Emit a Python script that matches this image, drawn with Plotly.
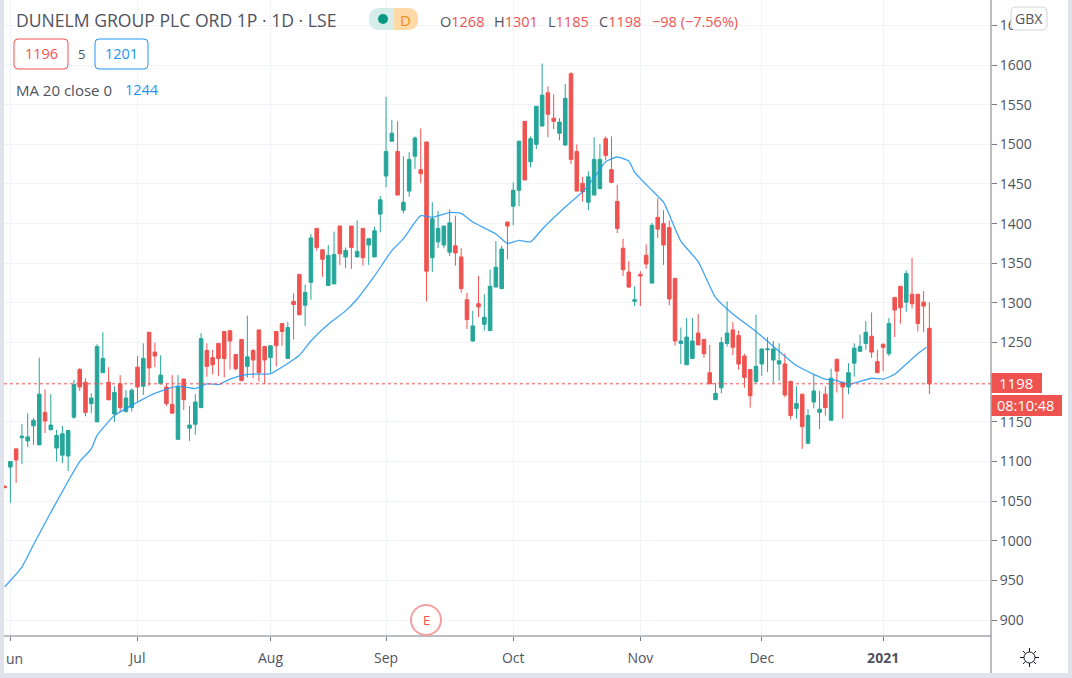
import plotly.graph_objects as go

TITLE = "DUNELM GROUP PLC ORD 1P · 1D · LSE"
open_ = [1069,1093,1116,1130,1126,1145,1121,1162,1140,1117,1108,1107,1156,1216,1200,1173,1150,1212,1200,1160,
 1198,1163,1168,1219,1195,1263,1238,1198,1194,1172,1128,1204,1142,1147,1168,1240,1231,1249,1264,1265,
 1235,1254,1220,1240,1266,1245,1231,1264,1274,1230,1302,1336,1297,1326,1394,1367,1322,1324,1397,1358,
 1397,1358,1394,1373,1358,1412,1460,1504,1491,1417,1441,1485,1468,1503,1357,1377,1373,1364,1372,1358,
 1304,1252,1299,1273,1265,1320,1318,1402,1422,1442,1529,1478,1500,1523,1565,1533,1514,1499,1589,1491,
 1451,1427,1436,1444,1507,1468,1428,1369,1339,1302,1336,1360,1325,1408,1400,1395,1331,1249,1222,1230,
 1262,1254,1212,1178,1193,1249,1266,1259,1233,1216,1201,1223,1241,1228,1223,1223,1201,1167,1185,1123,
 1175,1162,1185,1152,1229,1200,1194,1224,1239,1249,1258,1226,1248,1236,1307,1321,1301,1311,1311,1301,1268]
high = [1069,1100,1116,1147,1161,1155,1231,1191,1185,1140,1145,1140,1203,1218,1205,1186,1248,1263,1219,1195,
 1209,1190,1192,1233,1249,1263,1250,1234,1199,1209,1209,1204,1170,1185,1262,1249,1241,1249,1264,1265,
 1235,1254,1284,1242,1266,1246,1246,1264,1274,1276,1312,1336,1323,1387,1394,1367,1373,1390,1397,1370,
 1397,1404,1394,1381,1396,1435,1560,1531,1529,1485,1490,1510,1520,1503,1427,1416,1397,1418,1410,1369,
 1313,1290,1334,1311,1342,1378,1372,1402,1452,1504,1529,1510,1548,1602,1573,1563,1533,1576,1591,1500,
 1459,1466,1509,1500,1510,1510,1449,1381,1353,1321,1340,1374,1401,1432,1417,1404,1331,1269,1281,1281,
 1286,1254,1247,1199,1257,1302,1276,1265,1236,1216,1285,1242,1257,1252,1249,1236,1202,1195,1185,1166,
 1210,1189,1195,1217,1229,1200,1224,1249,1260,1277,1288,1241,1248,1281,1307,1321,1341,1357,1311,1315,1301]
low = [1067,1048,1073,1097,1118,1121,1121,1136,1140,1100,1098,1088,1154,1189,1157,1161,1150,1212,1177,1150,
 1163,1162,1163,1176,1184,1195,1219,1198,1170,1161,1128,1165,1126,1134,1168,1207,1210,1208,1206,1216,
 1215,1202,1206,1205,1201,1198,1212,1220,1246,1230,1254,1285,1271,1304,1366,1333,1322,1324,1348,1344,
 1343,1358,1347,1348,1358,1389,1446,1503,1436,1413,1434,1469,1451,1302,1339,1369,1369,1359,1347,1313,
 1267,1251,1282,1265,1265,1320,1318,1355,1398,1422,1455,1471,1494,1523,1509,1519,1505,1499,1475,1441,
 1428,1417,1436,1444,1480,1451,1388,1334,1319,1296,1296,1343,1325,1382,1348,1297,1246,1223,1222,1230,
 1247,1231,1198,1178,1186,1245,1234,1216,1193,1168,1198,1208,1213,1199,1202,1181,1153,1154,1116,1123,
 1167,1141,1158,1152,1187,1154,1185,1207,1239,1241,1231,1212,1214,1233,1257,1274,1289,1293,1264,1263,1185]
close = [1067,1100,1102,1132,1131,1152,1185,1151,1146,1133,1135,1139,1197,1194,1162,1180,1245,1230,1178,1187,
 1168,1180,1190,1194,1230,1218,1233,1209,1173,1161,1194,1178,1146,1175,1255,1220,1222,1230,1230,1252,
 1217,1202,1232,1228,1212,1228,1246,1246,1264,1269,1298,1285,1313,1382,1370,1355,1360,1361,1362,1366,
 1370,1365,1357,1381,1391,1430,1491,1514,1436,1427,1481,1508,1463,1340,1406,1394,1397,1401,1363,1318,
 1279,1271,1295,1282,1321,1345,1368,1397,1442,1504,1455,1507,1548,1562,1538,1529,1528,1558,1481,1441,
 1440,1459,1481,1481,1486,1452,1394,1342,1320,1304,1334,1349,1398,1393,1373,1305,1252,1252,1257,1252,
 1247,1236,1198,1186,1250,1262,1244,1223,1206,1183,1220,1242,1242,1242,1227,1184,1158,1173,1144,1158,
 1189,1166,1168,1205,1214,1194,1212,1243,1245,1263,1238,1212,1244,1274,1291,1294,1337,1299,1274,1296,1198]
ma_x = [0,3,5,8,13,15,16,19,23,26,30,33,35,37,39,42,46,51,53,56,59,61,64,67,69,72,74,77,79,81,85,87,89,91,93,97,
 100,102,104,106,108,109,112,114,117,120,123,126,130,134,137,140,142,144,146,148,150,152,154,156,158,159.5]
ma_y = [942,967,995,1036,1100,1116,1133,1158,1175,1186,1195,1192,1198,1197,1204,1210,1211,1234,1252,1273,1290,1305,1334,1366,1381,1410,1408,1414,1413,1402,1387,1375,1379,1377,1393,1421,
 1440,1458,1478,1484,1479,1465,1442,1427,1378,1352,1307,1286,1264,1239,1221,1210,1204,1202,1197,1201,1205,1204,1210,1223,1236,1244]
tick_x = [1,23,46,66,88,110,131,152]
tick_text = ["","Jul","Aug","Sep","Oct","Nov","Dec","<b>2021</b>"]
price_ticks = list(range(900,1700,50))
last_price = 1198
x_index = list(range(len(open_)))

W,H = 1072,678
L,R,T,B = 4,991,0,636
GREEN,RED,BLUE = "#26a69a","#ef5350","#2196f3"
TXT = "#50535e"
FONT = "Open Sans, Noto Sans, sans-serif"
def px(x): return (x-L)/(R-L)
def py(y): return 1-(y-T)/(B-T)

def rrect(x0,y0,x1,y1,r,fill,line,w=1):
    a,b,c,d = px(x0),py(y0),px(x1),py(y1)
    rx,ry = r/(R-L), r/(B-T)
    path = (f"M{a+rx},{b} L{c-rx},{b} Q{c},{b} {c},{b-ry} L{c},{d+ry} Q{c},{d} {c-rx},{d} "
            f"L{a+rx},{d} Q{a},{d} {a},{d+ry} L{a},{b-ry} Q{a},{b} {a+rx},{b} Z")
    return dict(type="path",xref="paper",yref="paper",path=path,fillcolor=fill,line=dict(color=line,width=w),layer="above")
def rect(x0,y0,x1,y1,fill):
    return dict(type="rect",xref="paper",yref="paper",x0=px(x0),x1=px(x1),y0=py(y0),y1=py(y1),fillcolor=fill,line=dict(width=0),layer="above")
def seg(x0,y0,x1,y1,c,w=1):
    return dict(type="line",xref="paper",yref="paper",x0=px(x0),x1=px(x1),y0=py(y0),y1=py(y1),line=dict(color=c,width=w),layer="above")
def circ(cx,cy,r,fill,line,w=1):
    return dict(type="circle",xref="paper",yref="paper",x0=px(cx-r),x1=px(cx+r),y0=py(cy+r),y1=py(cy-r),fillcolor=fill,line=dict(color=line,width=w),layer="above")
def label(x,y,text,size=14,color=TXT,anchor="left"):
    return dict(xref="paper",yref="paper",x=px(x),y=py(y),text=text,showarrow=False,xanchor=anchor,yanchor="middle",
                font=dict(family=FONT,size=size,color=color),borderpad=0,align=anchor)

fig = go.Figure()
fig.add_trace(go.Candlestick(x=x_index,open=open_,high=high,low=low,close=close,whiskerwidth=0,
    increasing=dict(line=dict(color=GREEN,width=1),fillcolor=GREEN),
    decreasing=dict(line=dict(color=RED,width=1),fillcolor=RED),hoverinfo="skip",showlegend=False))
fig.add_trace(go.Scatter(x=ma_x,y=ma_y,mode="lines",line=dict(color=BLUE,width=1.3,shape="spline",smoothing=0.5),opacity=0.85,hoverinfo="skip",showlegend=False))

strip = "#e0e3eb"
shapes = [
    dict(type="line",xref="paper",yref="y",x0=0,x1=1,y0=last_price,y1=last_price,line=dict(color=RED,width=1,dash="dot"),layer="above"),
    seg(R,0,R,673,"#787b86",1), seg(L,B,R,B,"#787b86",1),
    rect(991.5,373,1042,393,RED), rect(991.5,395,1062,416,RED),
    rrect(1011,7,1047,30,5,"#ffffff","#d1d4dc"),
    rrect(14,39,68,69,4,"#ffffff",RED), rrect(95,39,148,69,4,"#ffffff",BLUE),
    rrect(369,8,418,30,11,"#d5ece9","#d5ece9",0),
    dict(type="path",xref="paper",yref="paper",
         path=f"M{px(394)},{py(8)} L{px(407)},{py(8)} Q{px(418)},{py(8)} {px(418)},{py(19)} Q{px(418)},{py(30)} {px(407)},{py(30)} L{px(394)},{py(30)} Z",
         fillcolor="#ffd9a6",line=dict(width=0),layer="above"),
    circ(383,19,5,"#089981","#089981",0),
    circ(426,620,15,"#ffffff","#f2a0a0",2),
    circ(1029.5,657.5,5.5,"#ffffff","#131722",1),
    seg(1029.5,648,1029.5,652,"#131722"), seg(1029.5,663,1029.5,667,"#131722"),
    seg(1020,657.5,1024,657.5,"#131722"), seg(1035,657.5,1039,657.5,"#131722"),
    seg(1023,651,1025.6,653.6,"#131722"), seg(1033.4,661.4,1036,664,"#131722"),
    seg(1036,651,1033.4,653.6,"#131722"), seg(1025.6,661.4,1023,664,"#131722"),
    rect(0,0,4,678,strip), rect(1068,0,1072,678,strip), rect(0,673,1072,678,strip),
]
def ohlc_item(letter,value): return f'{letter}<span style="color:{RED}">{value}</span>'
annotations = [
    label(15,19.5,TITLE,17.6),
    label(405,19.5,"D",15,"#ef8a1c","center"),
    label(439,21,ohlc_item("O","1268"),14.5), label(493,21,ohlc_item("H","1301"),14.5),
    label(547,21,ohlc_item("L","1185"),14.5), label(598,21,ohlc_item("C","1198"),14.5),
    label(651,21,"−98 (−7.56%)",14.5,RED),
    label(41,54,"1196",14.5,RED,"center"), label(81.5,54,"5",13,TXT,"center"), label(121.5,54,"1201",14.5,BLUE,"center"),
    label(15,90,"MA 20 close 0",15), label(124,90,"1244",14.5,BLUE),
    label(1015.5,383,"1198",15,"#ffffff","center"), label(1025.5,405.5,"08:10:48",14.5,"#ffffff","center"),
    label(1029,18.5,"GBX",14,TXT,"center"),
    label(426,620,"E",13,RED,"center"),
    label(5,658,"un",14),
]

s = 5.78
fig.update_layout(
    width=W,height=H,margin=dict(l=L,r=W-R,t=T,b=H-B,autoexpand=False),
    paper_bgcolor="#ffffff",plot_bgcolor="#ffffff",showlegend=False,boxgap=0.12,
    shapes=shapes,annotations=annotations,
    font=dict(family=FONT,size=14,color=TXT),
    xaxis=dict(range=[-0.1,(R-L)/s-0.1],tickmode="array",tickvals=tick_x,ticktext=tick_text,
        rangeslider=dict(visible=False),showgrid=True,gridcolor="#f0f3fa",gridwidth=1,zeroline=False,
        ticks="outside",ticklen=4,tickcolor="#787b86",showline=False,tickfont=dict(family=FONT,size=14,color=TXT),automargin=False,
        ticklabelstandoff=5),
    yaxis=dict(range=[880,1682],side="right",tickmode="array",tickvals=price_ticks,ticktext=[str(v) for v in price_ticks],
        showgrid=True,gridcolor="#f0f3fa",gridwidth=1,zeroline=False,ticks="outside",ticklen=5,tickcolor="#787b86",
        showline=False,tickfont=dict(family=FONT,size=14,color=TXT),automargin=False),
)
fig.write_html("out.html",config=dict(displayModeBar=False),
    post_script="document.body.style.margin='0';document.body.style.overflow='hidden';")
